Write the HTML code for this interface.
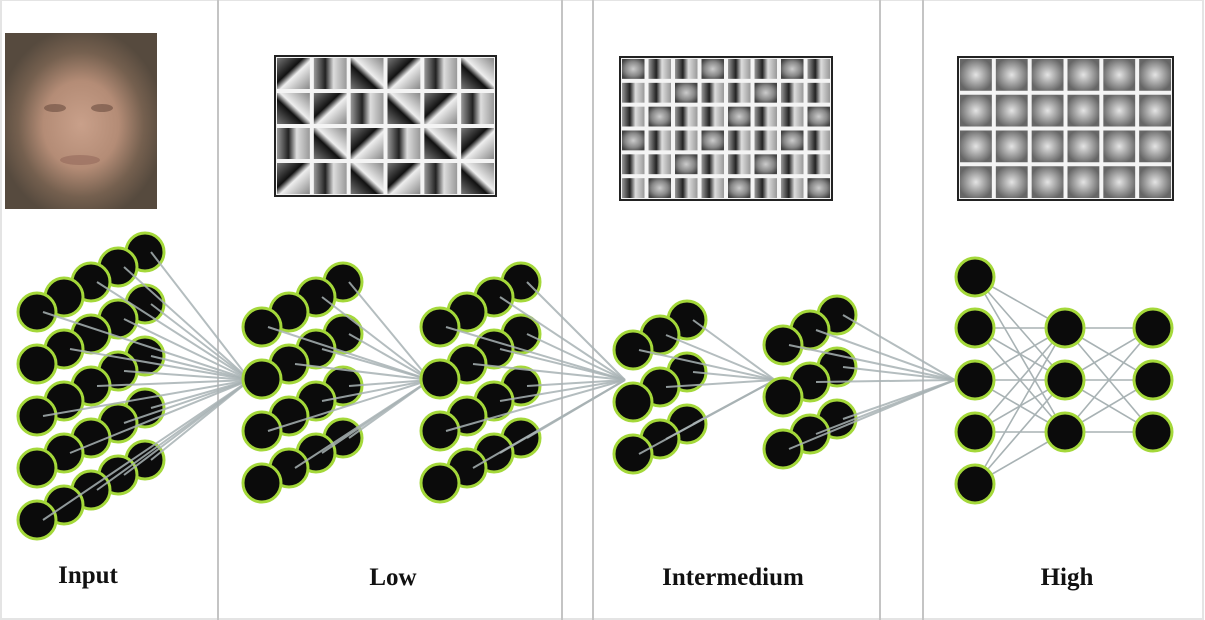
<!DOCTYPE html>
<html><head><meta charset="utf-8"><style>
html,body{margin:0;padding:0;background:#fff;}
svg{display:block;}
text{font-family:"Liberation Serif",serif;font-weight:bold;font-size:25px;fill:#111;}
</style></head><body>
<svg id="c" width="1205" height="620" viewBox="0 0 1205 620">
<defs>
<radialGradient id="skin" cx="50%" cy="52%" r="55%">
<stop offset="0" stop-color="#c9a08a"/><stop offset="0.45" stop-color="#b48c76"/><stop offset="0.75" stop-color="#75604f"/><stop offset="1" stop-color="#564a3e"/>
</radialGradient>
<linearGradient id="cellA" x1="0" y1="0" x2="1" y2="1"><stop offset="0" stop-color="#777"/><stop offset="0.4" stop-color="#111"/><stop offset="0.55" stop-color="#eee"/><stop offset="1" stop-color="#888"/></linearGradient>
<linearGradient id="cellB" x1="1" y1="0" x2="0" y2="1"><stop offset="0" stop-color="#888"/><stop offset="0.45" stop-color="#eee"/><stop offset="0.6" stop-color="#111"/><stop offset="1" stop-color="#777"/></linearGradient>
<linearGradient id="cellC" x1="0" y1="0" x2="1" y2="0"><stop offset="0" stop-color="#999"/><stop offset="0.35" stop-color="#222"/><stop offset="0.6" stop-color="#ddd"/><stop offset="1" stop-color="#999"/></linearGradient>
<radialGradient id="faceG" cx="50%" cy="50%" r="55%"><stop offset="0" stop-color="#e4e4e4"/><stop offset="0.5" stop-color="#a5a5a5"/><stop offset="1" stop-color="#666"/></radialGradient>
<radialGradient id="midG" cx="50%" cy="50%" r="60%"><stop offset="0" stop-color="#ccc"/><stop offset="0.6" stop-color="#888"/><stop offset="1" stop-color="#444"/></radialGradient>
</defs>
<g id="panels"></g>
<g id="thumbs"></g>
<g id="links"></g>
<g id="nodes"></g>
<text x="88" y="583" text-anchor="middle">Input</text>
<text x="393" y="585" text-anchor="middle">Low</text>
<text x="733" y="585" text-anchor="middle">Intermedium</text>
<text x="1067" y="585" text-anchor="middle">High</text>
</svg>
<script>
const NS='http://www.w3.org/2000/svg';
const panelXs=[218,562,593,880,923];
const grids=[[275,56,221,140,6,4,'low-features'],[620,57,212,143,8,6,'mid-features'],[958,57,215,143,6,4,'high-features']];
function mk(tag,attrs,parent){const e=document.createElementNS(NS,tag);for(const k in attrs)e.setAttribute(k,attrs[k]);parent.appendChild(e);return e;}
const P=document.getElementById('panels'),T=document.getElementById('thumbs'),L=document.getElementById('links'),N=document.getElementById('nodes');
mk('rect',{x:1,y:0,width:1202,height:619,fill:'none',stroke:'#e4e4e4','stroke-width':2},P);
panelXs.forEach(x=>{const l=mk('line',{x1:x,y1:0,x2:x,y2:620,stroke:'#c4c4c4','stroke-width':2},P);

});
const f=mk('rect',{x:5,y:33,width:152,height:176,fill:'url(#skin)'},T);


mk('ellipse',{cx:55,cy:108,rx:11,ry:4,fill:'#6a4c40',opacity:0.6},T);
mk('ellipse',{cx:102,cy:108,rx:11,ry:4,fill:'#6a4c40',opacity:0.6},T);
mk('ellipse',{cx:80,cy:160,rx:20,ry:5,fill:'#8a5e52',opacity:0.45},T);
const fills=['url(#cellA)','url(#cellB)','url(#cellC)'];
grids.forEach((g,gi)=>{const [x,y,w,h,cols,rows,name]=g;
const gr=mk('g',{},T);


mk('rect',{x:x,y:y,width:w,height:h,fill:'#f4f4f4',stroke:'#222','stroke-width':2},gr);
const cw=w/cols,ch=h/rows;
for(let r=0;r<rows;r++)for(let c=0;c<cols;c++){
 const fill=gi==0?fills[(r*cols+c*2+r)%3]:(gi==1?((r+c)%3==0?'url(#midG)':'url(#cellC)'):'url(#faceG)');
 mk('rect',{x:x+c*cw+2,y:y+r*ch+2,width:cw-4,height:ch-4,fill:fill},gr);}
});
const blocks=[[37,312,5,5],[262,327,4,4],[440,327,4,4],[633,350,3,3],[783,345,3,3]];
const targets=[[250,380],[430,380],[625,380],[775,380],[955,380]];
const dx=27,dy=-15,sp=52,R=19;
function circle(cx,cy){const c=mk('circle',{cx:cx,cy:cy,r:R,fill:'#0b0b0b',stroke:'#a4d83a','stroke-width':3},N);

}
blocks.forEach((b,bi)=>{const [fx,fy,rows,cols]=b;const t=targets[bi];
 for(let c=cols-1;c>=0;c--)for(let r=0;r<rows;r++){const cx=fx+c*dx,cy=fy+r*sp+c*dy;circle(cx,cy);
  if((r+c)%2==0||c>=cols-2){mk('line',{x1:cx+6,y1:cy,x2:t[0],y2:t[1],stroke:'#a8b2b4','stroke-width':2,opacity:0.85},N);}}
});
const hc=[[975,[277,328,380,432,484]],[1065,[328,380,432]],[1153,[328,380,432]]];
for(let i=0;i<2;i++)hc[i][1].forEach(a=>hc[i+1][1].forEach(b=>mk('line',{x1:hc[i][0],y1:a,x2:hc[i+1][0],y2:b,stroke:'#a8b2b4','stroke-width':1.6},L)));
hc.forEach(col=>col[1].forEach(y=>circle(col[0],y)));
</script>
</body></html>
